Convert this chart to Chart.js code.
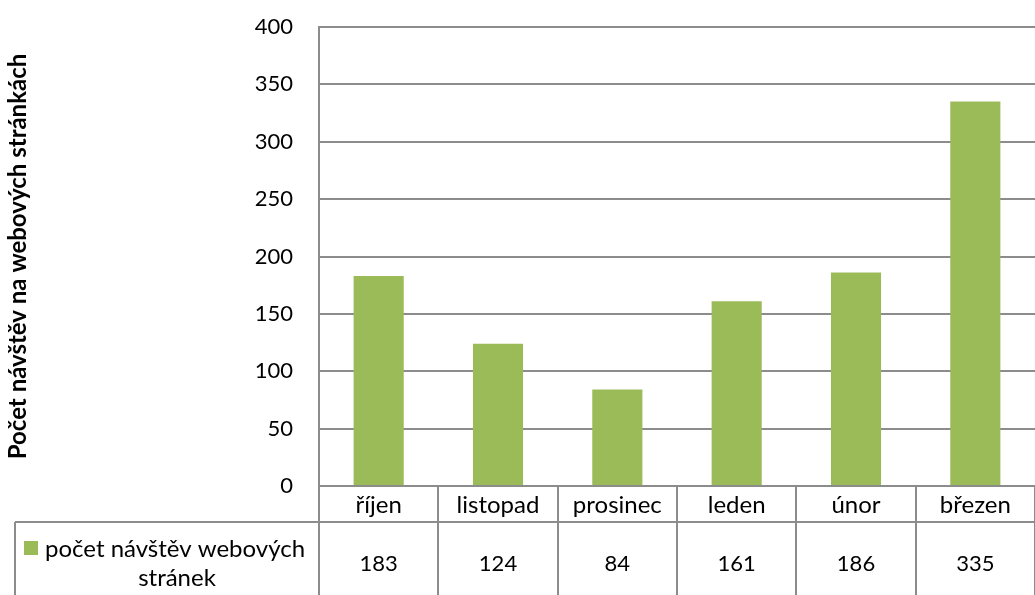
<!DOCTYPE html>
<html>
<head>
<meta charset="utf-8">
<script src="https://cdn.jsdelivr.net/npm/chart.js@4/dist/chart.umd.min.js"></script>
<style>
  html, body { margin: 0; padding: 0; background: #fff; }
  #wrap { width: 1035px; height: 595px; }
</style>
</head>
<body>
<div id="wrap"><canvas id="navstevy" width="1035" height="595"></canvas></div>
<script>
const mesice = ['říjen', 'listopad', 'prosinec', 'leden', 'únor', 'březen'];
const navstevy = [183, 124, 84, 161, 186, 335];
const osaY = [0, 50, 100, 150, 200, 250, 300, 350, 400];
const nazevRady = ['počet návštěv webových', 'stránek'];

const zelena = '#9BBB59';
const seda = '#8c8c8c';
const pismo = 'Lato, "Open Sans", sans-serif';

// tabulka dat pod grafem (jako v Excelu)
const tabulka = {
  id: 'tabulka',
  afterDraw(chart) {
    const c = chart.ctx;
    const area = chart.chartArea;
    const x = chart.scales.x;
    const n = mesice.length;
    const sirka = (area.right - area.left) / n;
    const r1 = area.bottom + 36;
    const spodek = chart.height;
    const levy = 15;

    c.save();
    c.strokeStyle = seda;
    c.lineWidth = 2;
    c.beginPath();
    c.moveTo(area.left, area.bottom);
    c.lineTo(area.right, area.bottom);
    c.moveTo(levy, r1);
    c.lineTo(area.right, r1);
    for (let i = 0; i <= n; i++) {
      const px = Math.round(area.left + i * sirka);
      c.moveTo(px, area.bottom);
      c.lineTo(px, spodek);
    }
    c.moveTo(levy, r1);
    c.lineTo(levy, spodek);
    c.stroke();

    c.fillStyle = '#000';
    c.textAlign = 'center';
    c.textBaseline = 'middle';
    mesice.forEach((m, i) => {
      const px = x.getPixelForValue(i);
      c.font = '24px ' + pismo;
      c.fillText(m, px, area.bottom + 19);
      c.font = '22px ' + pismo;
      c.fillText(String(navstevy[i]), px, r1 + 42);
    });

    // legenda v tabulce
    c.fillStyle = zelena;
    c.fillRect(24, r1 + 19, 14, 14);
    c.fillStyle = '#000';
    c.font = '24px ' + pismo;
    c.textAlign = 'left';
    c.fillText(nazevRady[0], 45, r1 + 27);
    c.textAlign = 'center';
    c.fillText(nazevRady[1], 177, r1 + 56);
    c.restore();
  }
};

new Chart(document.getElementById('navstevy').getContext('2d'), {
  type: 'bar',
  data: {
    labels: mesice,
    datasets: [{
      label: nazevRady.join(' '),
      data: navstevy,
      backgroundColor: zelena,
      borderWidth: 0,
      barPercentage: 0.42,
      categoryPercentage: 1
    }]
  },
  options: {
    responsive: false,
    animation: false,
    layout: { padding: { top: 27, right: 0, bottom: 109, left: 0 } },
    plugins: {
      legend: { display: false },
      tooltip: { enabled: false }
    },
    scales: {
      x: { display: false },
      y: {
        min: 0,
        max: 400,
        afterBuildTicks(axis) { axis.ticks = osaY.map(v => ({ value: v })); },
        afterFit(axis) {
          axis.width = 319;
          axis.paddingTop = 0;
          axis.paddingBottom = 0;
        },
        border: { display: true, color: seda, width: 2 },
        grid: { color: seda, lineWidth: 2, drawTicks: false },
        ticks: {
          padding: 26,
          color: '#000',
          font: { family: pismo, size: 22 }
        },
        title: {
          display: true,
          text: 'Počet návštěv na webových stránkách',
          color: '#000',
          padding: { top: 4, bottom: 0 },
          font: { family: pismo, size: 24, weight: 'bold' }
        }
      }
    }
  },
  plugins: [tabulka]
});
</script>
</body>
</html>
